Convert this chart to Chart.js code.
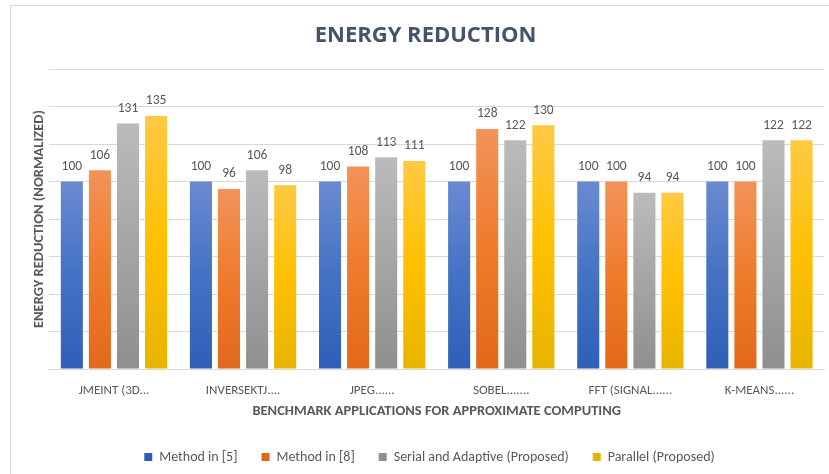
<!DOCTYPE html>
<html><head><meta charset="utf-8">
<script src="https://cdn.jsdelivr.net/npm/chart.js@4"></script>
<style>
html,body{margin:0;padding:0;background:#fff;overflow:hidden;}
#wrap{position:absolute;left:10px;top:5px;width:819px;height:469px;border-top:1px solid #D9D9D9;border-left:1px solid #D9D9D9;box-sizing:border-box;}
canvas{display:block;}
</style></head><body>
<div id="wrap"><canvas id="c"></canvas></div>
<script>
const categories = ["JMEINT (3D...", "INVERSEKTJ....", "JPEG......", "SOBEL.......", "FFT (SIGNAL......", "K-MEANS......"];
const seriesNames = ["Method in [5]", "Method in [8]", "Serial and Adaptive (Proposed)", "Parallel (Proposed)"];
const method5 = [100, 100, 100, 100, 100, 100];
const method8 = [106, 96, 108, 128, 100, 100];
const serialAdaptive = [131, 106, 113, 122, 94, 122];
const parallelProposed = [135, 98, 111, 130, 94, 122];
const yTicks = [0, 20, 40, 60, 80, 100, 120, 140, 160];
const chartTitle = "ENERGY REDUCTION";
const yTitle = "ENERGY REDUCTION (NORMALIZED)";
const xTitle = "BENCHMARK APPLICATIONS FOR APPROXIMATE COMPUTING";

const FONT = "Carlito, Lato, 'Liberation Sans', sans-serif";
const palettes = [
  ['#6A8AD1', '#4472C4', '#2F5FB8', '#3664C1'],
  ['#F29358', '#EF7B2C', '#E2681C', '#E96F22'],
  ['#BBBBBB', '#A5A5A5', '#8F8F8F', '#9D9D9D'],
  ['#FFC944', '#FFC000', '#E8B400', '#F2BA00']
];
function grad(p) {
  return (ctx) => {
    const chart = ctx.chart;
    if (ctx.type !== 'data' || !chart.chartArea) return p[3];
    const y = chart.scales.y;
    const top = y.getPixelForValue(ctx.raw);
    const base = y.getPixelForValue(0);
    if (!isFinite(top) || !isFinite(base) || top === base) return p[1];
    const g = chart.ctx.createLinearGradient(0, top, 0, base);
    g.addColorStop(0, p[0]);
    g.addColorStop(0.5, p[1]);
    g.addColorStop(1, p[2]);
    return g;
  };
}
const seriesData = [method5, method8, serialAdaptive, parallelProposed];
const datasets = seriesNames.map((n, i) => ({
  label: n,
  data: seriesData[i],
  backgroundColor: grad(palettes[i]),
  borderWidth: 0,
  categoryPercentage: 0.87,
  barPercentage: 0.786
}));

const helper = {
  id: 'helper',
  afterInit(chart) {
    const lg = chart.legend;
    if (lg) lg.afterFit = function () { this.height = 48; };
  },
  afterLayout(chart) {
    const lg = chart.legend;
    if (lg) {
      const dx = 4;
      lg.left += dx; lg.right += dx;
    }
  },
  afterDatasetsDraw(chart) {
    const c = chart.ctx;
    c.save();
    c.font = "13.5px " + FONT;
    c.fillStyle = '#595959';
    c.textAlign = 'center';
    c.textBaseline = 'middle';
    chart.data.datasets.forEach((ds, i) => {
      chart.getDatasetMeta(i).data.forEach((el, j) => {
        c.fillText(String(ds.data[j]), el.x, el.y - 15);
      });
    });
    c.restore();
  }
};

new Chart(document.getElementById('c'), {
  type: 'bar',
  data: { labels: categories, datasets },
  options: {
    responsive: true,
    maintainAspectRatio: false,
    animation: false,
    events: [],
    layout: { padding: { left: 16, right: 5, top: 6, bottom: 0 } },
    plugins: {
      title: {
        display: true, text: chartTitle, color: '#44546A',
        font: { family: "'Open Sans', Lato, sans-serif", size: 22, weight: 'bold' },
        padding: { top: 11, bottom: 19.6 }
      },
      legend: {
        position: 'bottom',
        labels: {
          color: '#595959', font: { family: FONT, size: 14 },
          boxWidth: 8, boxHeight: 8, padding: 24
        }
      },
      tooltip: { enabled: false }
    },
    scales: {
      x: {
        grid: { display: false, drawTicks: false },
        border: { display: true, color: '#D9D9D9' },
        ticks: { color: '#595959', font: { family: FONT, size: 13 }, padding: 14, maxRotation: 0, autoSkip: false },
        title: {
          display: true, text: xTitle, color: '#595959',
          font: { family: FONT, size: 14.5, weight: 'bold' },
          padding: { top: 3, bottom: 6 }
        },
        afterFit(s) { s.height -= 13; }
      },
      y: {
        min: yTicks[0], max: yTicks[yTicks.length - 1],
        afterBuildTicks(s) { s.ticks = yTicks.map(v => ({ value: v })); },
        grid: { color: '#D9D9D9', drawTicks: false },
        border: { display: false },
        ticks: { display: false },
        title: {
          display: true, text: yTitle, color: '#595959',
          font: { family: FONT, size: 14.5, weight: 'bold' },
          padding: { top: 4, bottom: 1 }
        }
      }
    }
  },
  plugins: [helper]
});
</script>
</body></html>
